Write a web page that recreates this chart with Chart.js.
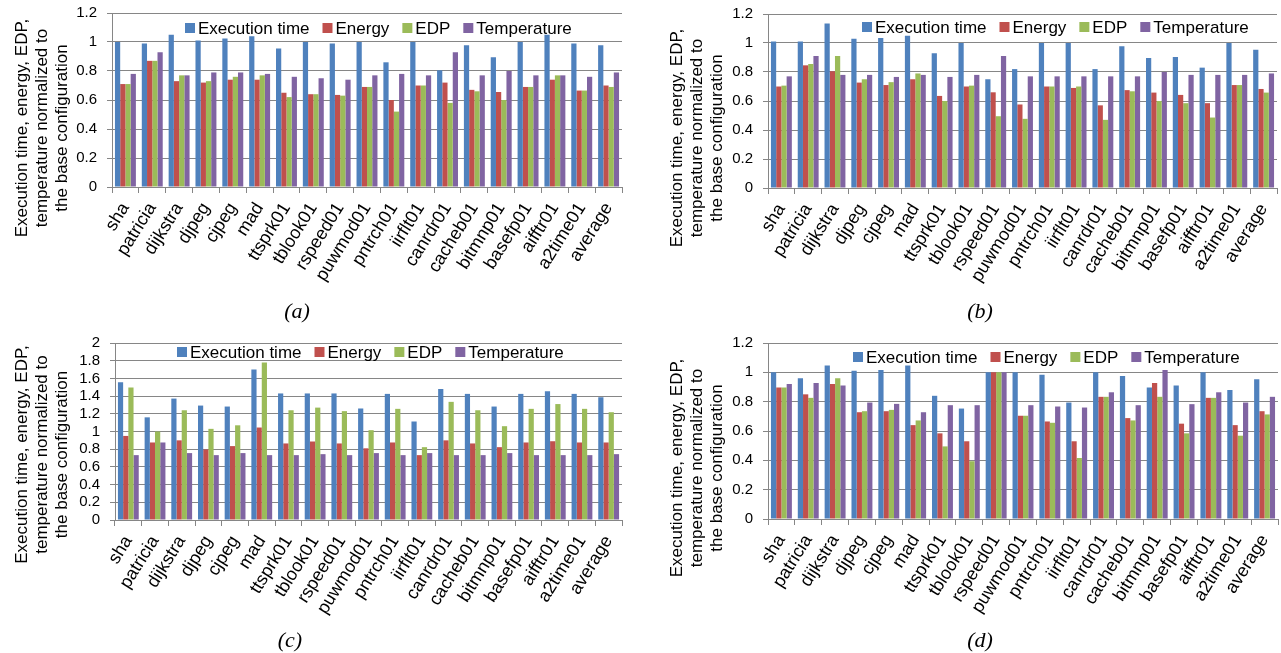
<!DOCTYPE html>
<html>
<head>
<meta charset="utf-8">
<title>Execution time, energy, EDP, temperature normalized to the base configuration</title>
<script src="https://cdn.jsdelivr.net/npm/chart.js@4.4.1/dist/chart.umd.min.js"></script>
<style>
    body { margin: 0; background: #fff; width: 1281px; height: 653px; position: relative; overflow: hidden; }
    .panel { position: absolute; }
    .panel canvas { display: block; }
    .caption { position: absolute; width: 100px; text-align: center; font: italic 22px "Liberation Serif", "DejaVu Serif", serif; line-height: 26px; color: #000; }
</style>
</head>
<body>
<div class="panel" style="left:0px;top:0px"><canvas id="chartA" width="640" height="300"></canvas></div>
<div class="panel" style="left:640px;top:0px"><canvas id="chartB" width="641" height="300"></canvas></div>
<div class="panel" style="left:0px;top:330px"><canvas id="chartC" width="640" height="300"></canvas></div>
<div class="panel" style="left:640px;top:330px"><canvas id="chartD" width="641" height="300"></canvas></div>
<div class="caption" style="left:247px;top:298px">(a)</div>
<div class="caption" style="left:930px;top:298px">(b)</div>
<div class="caption" style="left:240px;top:627px">(c)</div>
<div class="caption" style="left:930px;top:627px">(d)</div>

<script>
const categories = ['sha', 'patricia', 'dijkstra', 'djpeg', 'cjpeg', 'mad', 'ttsprk01', 'tblook01', 'rspeed01',
    'puwmod01', 'pntrch01', 'iirflt01', 'canrdr01', 'cacheb01', 'bitmnp01', 'basefp01', 'aifftr01', 'a2time01', 'average'];
const seriesNames = ['Execution time', 'Energy', 'EDP', 'Temperature'];
const seriesColors = ['#4F81BD', '#C0504D', '#9BBB59', '#8064A2'];
const axisTitle = ['Execution time, energy, EDP,', 'temperature normalized to', 'the base configuration'];
const yTicksUnit = [0, 0.2, 0.4, 0.6, 0.8, 1, 1.2];
const yTicksTwo = [0, 0.2, 0.4, 0.6, 0.8, 1, 1.2, 1.4, 1.6, 1.8, 2];

// (a)
const execA   = [1.0, 0.99, 1.05, 1.01, 1.025, 1.04, 0.955, 1.0, 0.99, 1.0, 0.86, 1.0, 0.805, 0.977, 0.895, 1.0, 1.05, 0.99, 0.977];
const energyA = [0.71, 0.87, 0.73, 0.72, 0.74, 0.74, 0.65, 0.64, 0.635, 0.69, 0.60, 0.70, 0.72, 0.67, 0.655, 0.69, 0.74, 0.665, 0.70];
const edpA    = [0.71, 0.87, 0.77, 0.73, 0.76, 0.77, 0.62, 0.64, 0.63, 0.69, 0.52, 0.70, 0.58, 0.66, 0.60, 0.69, 0.77, 0.665, 0.69];
const tempA   = [0.78, 0.93, 0.77, 0.79, 0.79, 0.78, 0.76, 0.75, 0.74, 0.77, 0.78, 0.77, 0.93, 0.77, 0.80, 0.77, 0.77, 0.76, 0.79];

// (b)
const execB   = [1.01, 1.01, 1.135, 1.03, 1.035, 1.05, 0.93, 1.0, 0.75, 0.82, 1.0, 1.0, 0.82, 0.977, 0.897, 0.904, 0.83, 1.0, 0.954];
const energyB = [0.70, 0.846, 0.805, 0.727, 0.71, 0.75, 0.635, 0.70, 0.66, 0.576, 0.70, 0.69, 0.57, 0.675, 0.658, 0.642, 0.585, 0.71, 0.683];
const edpB    = [0.706, 0.855, 0.91, 0.75, 0.73, 0.79, 0.60, 0.706, 0.495, 0.477, 0.70, 0.70, 0.47, 0.667, 0.60, 0.585, 0.486, 0.71, 0.658];
const tempB   = [0.77, 0.91, 0.78, 0.78, 0.766, 0.78, 0.766, 0.78, 0.91, 0.77, 0.77, 0.77, 0.77, 0.77, 0.80, 0.78, 0.78, 0.78, 0.79];

// (c)
const execC   = [1.556, 1.16, 1.372, 1.293, 1.282, 1.70, 1.43, 1.43, 1.43, 1.26, 1.425, 1.113, 1.48, 1.425, 1.282, 1.425, 1.455, 1.425, 1.387];
const energyC = [0.95, 0.876, 0.90, 0.797, 0.835, 1.045, 0.865, 0.887, 0.865, 0.81, 0.876, 0.733, 0.90, 0.865, 0.823, 0.876, 0.89, 0.876, 0.876];
const edpC    = [1.496, 1.0, 1.24, 1.03, 1.07, 1.78, 1.24, 1.27, 1.23, 1.015, 1.256, 0.823, 1.335, 1.24, 1.06, 1.256, 1.31, 1.256, 1.218];
const tempC   = [0.733, 0.876, 0.756, 0.733, 0.756, 0.733, 0.733, 0.744, 0.733, 0.756, 0.733, 0.756, 0.733, 0.733, 0.756, 0.733, 0.733, 0.733, 0.744];

// (d)
const execD   = [1.0, 0.96, 1.047, 1.01, 1.016, 1.047, 0.84, 0.753, 1.0, 1.0, 0.984, 0.794, 1.0, 0.975, 0.896, 0.91, 1.0, 0.88, 0.952];
const energyD = [0.896, 0.85, 0.92, 0.728, 0.735, 0.64, 0.584, 0.53, 1.0, 0.704, 0.665, 0.53, 0.833, 0.688, 0.928, 0.65, 0.826, 0.64, 0.735];
const edpD    = [0.896, 0.826, 0.96, 0.735, 0.744, 0.672, 0.495, 0.394, 1.0, 0.704, 0.656, 0.416, 0.833, 0.672, 0.833, 0.584, 0.826, 0.568, 0.713];
const tempD   = [0.92, 0.928, 0.91, 0.794, 0.785, 0.728, 0.776, 0.776, 1.0, 0.776, 0.767, 0.76, 0.864, 0.776, 1.016, 0.783, 0.864, 0.794, 0.833];

const FONT = '"Liberation Sans", Arial, sans-serif';
const GRID = '#868686';

// y title (three centred lines) and the legend that sits inside the plot
const panelDecor = {
    id: 'panelDecor',
    afterDraw(chart, args, opts) {
        const ctx = chart.ctx;
        const area = chart.chartArea;
        ctx.save();
        ctx.fillStyle = '#000';
        ctx.font = '17px ' + FONT;
        ctx.textAlign = 'center';
        ctx.textBaseline = 'middle';
        const cy = (area.top + area.bottom) / 2 + opts.titleShift;
        axisTitle.forEach(function (line, i) {
            ctx.save();
            ctx.translate(opts.titleX + i * 20, cy);
            ctx.rotate(-Math.PI / 2);
            ctx.fillText(line, 0, 0);
            ctx.restore();
        });

        ctx.font = '17px ' + FONT;
        ctx.textAlign = 'left';
        let x = opts.legendX;
        chart.data.datasets.forEach(function (ds) {
            ctx.fillStyle = ds.backgroundColor;
            ctx.fillRect(x, opts.legendY - 5, 10, 10);
            ctx.fillStyle = '#000';
            ctx.fillText(ds.label, x + 13, opts.legendY + 1);
            x += 13 + ctx.measureText(ds.label).width + 13;
        });
        ctx.restore();
    }
};

function makePanel(id, series, yTicks, box) {
    const canvas = document.getElementById(id);
    if (!canvas) {
        console.error(id + ' not found');
        return;
    }
    const ctx = canvas.getContext('2d');

    new Chart(ctx, {
        type: 'bar',
        data: {
            labels: categories,
            datasets: series.map(function (values, i) {
                return {
                    label: seriesNames[i],
                    data: values,
                    backgroundColor: seriesColors[i],
                    borderWidth: 0,
                    categoryPercentage: 0.78,
                    barPercentage: 1.0
                };
            })
        },
        options: {
            responsive: false,
            animation: false,
            layout: {
                padding: { top: box.padTop, right: box.padRight, left: 0, bottom: 0 }
            },
            plugins: {
                legend: { display: false },
                tooltip: { enabled: false },
                panelDecor: box
            },
            scales: {
                x: {
                    grid: { offset: true, drawOnChartArea: false, drawTicks: true, tickLength: 6, color: GRID },
                    border: { color: GRID },
                    ticks: {
                        color: '#000',
                        font: { family: FONT, size: 18 },
                        minRotation: 58,
                        maxRotation: 58,
                        autoSkip: false,
                        padding: 6
                    },
                    afterFit: function (s) {
                        s.height = box.xHeight;
                        s.paddingLeft = 0;
                        s.paddingRight = 0;
                    }
                },
                y: {
                    min: 0,
                    max: yTicks[yTicks.length - 1],
                    afterBuildTicks: function (s) {
                        s.ticks = yTicks.map(function (v) { return { value: v }; });
                    },
                    grid: { color: GRID, tickLength: 5 },
                    border: { color: GRID },
                    ticks: {
                        color: '#000',
                        font: { family: FONT, size: 15 },
                        padding: 10,
                        autoSkip: false,
                        callback: function (v) { return String(Math.round(v * 10) / 10); }
                    },
                    afterFit: function (s) {
                        s.width = box.yWidth;
                        s.paddingTop = 0;
                        s.paddingBottom = 0;
                    }
                }
            }
        },
        plugins: [panelDecor]
    });
}

document.addEventListener('DOMContentLoaded', function () {
    makePanel('chartA', [execA, energyA, edpA, tempA], yTicksUnit,
        { yWidth: 112, padTop: 13, padRight: 18, xHeight: 113, legendX: 185, legendY: 28, titleX: 22, titleShift: 28 });
    makePanel('chartB', [execB, energyB, edpB, tempB], yTicksUnit,
        { yWidth: 128, padTop: 14, padRight: 4, xHeight: 112, legendX: 222, legendY: 27, titleX: 37, titleShift: 37 });
    makePanel('chartC', [execC, energyC, edpC, tempC], yTicksTwo,
        { yWidth: 115, padTop: 13, padRight: 18, xHeight: 110, legendX: 177, legendY: 22, titleX: 22, titleShift: 23 });
    makePanel('chartD', [execD, energyD, edpD, tempD], yTicksUnit,
        { yWidth: 128, padTop: 13, padRight: 3, xHeight: 111, legendX: 213, legendY: 27, titleX: 37, titleShift: 37 });
});
</script>
</body>
</html>
